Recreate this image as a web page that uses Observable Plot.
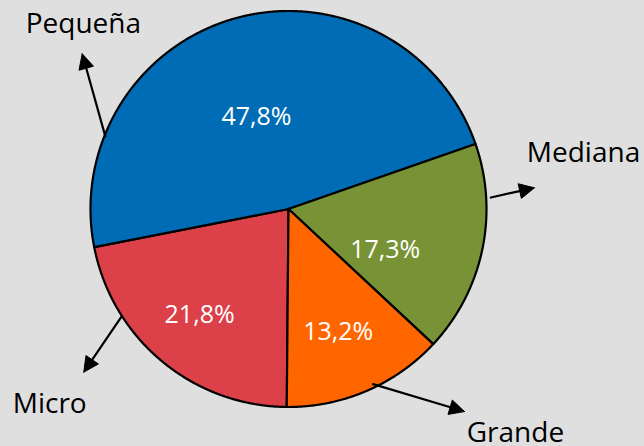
<!DOCTYPE html>
<html><head><meta charset="utf-8">
<script src="https://cdn.jsdelivr.net/npm/d3@7"></script>
<script src="https://cdn.jsdelivr.net/npm/@observablehq/plot@0.6"></script>
<style>html,body{margin:0;padding:0;background:#dfdfdf;overflow:hidden}</style>
</head><body><div id="chart"></div>
<script>
// ---- data ----
const categories = ["Micro", "Pequeña", "Mediana", "Grande"];
const shares = [21.8, 47.8, 17.3, 13.2];
const shareLabels = ["21,8%", "47,8%", "17,3%", "13,2%"];
const colors = ["#DC4048", "#006CB5", "#779335", "#FF6600"];

// ---- layout (unit = pie radius, origin = pie centre, y up) ----
const W = 644, H = 446, R = 198, CX = 288, CY = 208.5;
const startDeg = 180.5;
// percent label placement: polar (deg clockwise from 12 o'clock, radius)
const pctPos = {Micro: [219.9, 0.70], "Pequeña": [340.7, 0.49], Mediana: [112.8, 0.53], Grande: [158, 0.67]};
// category name placement
const namePos = {Micro: [-1.206, -0.984], "Pequeña": [-1.036, 0.933], Mediana: [1.490, 0.284], Grande: [1.146, -1.130]};
// arrows: [x1, y1, x2(tip), y2(tip)]
const arrowPos = {Micro: [-0.840, -0.538, -1.034, -0.824], "Pequeña": [-0.924, 0.363, -1.042, 0.784], Mediana: [1.017, 0.057, 1.242, 0.107], Grande: [0.423, -0.883, 0.889, -1.023]};

const rad = d => d * Math.PI / 180;
const polar = (a, r) => [r * Math.sin(a), r * Math.cos(a)];

const arcs = d3.pie().sort(null).startAngle(rad(startDeg)).endAngle(rad(startDeg + 360))(shares);

const slicePts = [];
arcs.forEach((p, i) => {
  const cat = categories[i];
  const n = Math.max(2, Math.ceil((p.endAngle - p.startAngle) / 0.005));
  slicePts.push({cat, x: 0, y: 0});
  for (let k = 0; k <= n; k++) {
    const [x, y] = polar(p.startAngle + (p.endAngle - p.startAngle) * k / n, 1);
    slicePts.push({cat, x, y});
  }
  slicePts.push({cat, x: 0, y: 0});
});

const pctData = categories.map((c, i) => {
  const [a, r] = pctPos[c];
  const [x, y] = polar(rad(a), r);
  return {cat: c, label: shareLabels[i], x, y};
});
const nameData = categories.map(c => ({cat: c, x: namePos[c][0], y: namePos[c][1]}));

const headLen = 15 / R, headHalf = 7.5 / R;
const shafts = [], heads = [];
categories.forEach(c => {
  const [x1, y1, x2, y2] = arrowPos[c];
  const dx = x2 - x1, dy = y2 - y1, L = Math.hypot(dx, dy);
  const ux = dx / L, uy = dy / L;
  const bx = x2 - ux * headLen, by = y2 - uy * headLen;
  shafts.push({cat: c, x1, y1, x2: bx + ux * 2 / R, y2: by + uy * 2 / R});
  heads.push({cat: c, x: x2, y: y2});
  heads.push({cat: c, x: bx - uy * headHalf, y: by + ux * headHalf});
  heads.push({cat: c, x: bx + uy * headHalf, y: by - ux * headHalf});
  heads.push({cat: c, x: x2, y: y2});
});

const font = "'Open Sans', 'Noto Sans', sans-serif";

const chart = Plot.plot({
  width: W, height: H,
  marginTop: 0, marginRight: 0, marginBottom: 0, marginLeft: 0,
  style: {background: "#dfdfdf", fontFamily: font},
  x: {domain: [-CX / R, (W - CX) / R], axis: null},
  y: {domain: [-(H - CY) / R, CY / R], axis: null},
  color: {domain: categories, range: colors},
  marks: [
    Plot.line(slicePts, {x: "x", y: "y", z: "cat", fill: "cat", stroke: "#000", strokeWidth: 2.2, strokeLinejoin: "round"}),
    Plot.link(shafts, {x1: "x1", y1: "y1", x2: "x2", y2: "y2", stroke: "#000", strokeWidth: 2.2}),
    Plot.line(heads, {x: "x", y: "y", z: "cat", fill: "#000", stroke: "#000", strokeWidth: 1, strokeLinejoin: "miter"}),
    Plot.text(pctData, {x: "x", y: "y", text: "label", fill: "#fff", fontSize: 25, fontFamily: font}),
    Plot.text(nameData, {x: "x", y: "y", text: "cat", fill: "#000", fontSize: 28, fontFamily: font})
  ]
});
document.getElementById("chart").appendChild(chart);
</script>
</body></html>
